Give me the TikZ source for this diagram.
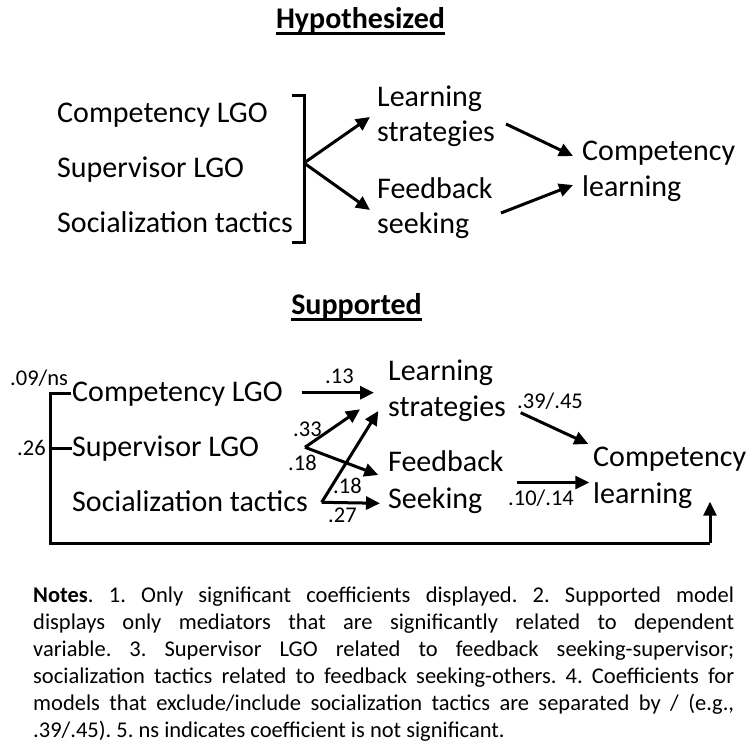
\documentclass[tikz,border=0pt]{standalone}
\usepackage{fontspec}
\setmainfont{Carlito}
\usetikzlibrary{arrows.meta}
\frenchspacing
\begin{document}
\begin{tikzpicture}[x=1pt,y=-1pt,
  txt/.style={inner sep=0pt,anchor=base west,font=\fontsize{30}{35}\selectfont},
  lbl/.style={inner sep=0pt,anchor=base west,font=\fontsize{22.5}{27}\selectfont},
  note/.style={inner sep=0pt,anchor=base west,font=\fontsize{22.5}{27}\selectfont},
  ttl/.style={inner sep=0pt,anchor=base,font=\fontsize{30}{35}\selectfont\bfseries},
  uline/.style={line width=3pt},
  link/.style={line width=3pt},
  arr/.style={line width=3pt,-{Triangle[length=14pt,width=13pt]}}]
\useasboundingbox[fill=white] (0,0) rectangle (753,744);

% ---------------- Hypothesized ----------------
\node[ttl] (th) at (360.5,28.5) {Hypothesized};
\draw[uline] ([yshift=-5pt]th.base west) -- ([yshift=-5pt]th.base east);

\node[txt] (hc) at (57,122.7) {Competency LGO};
\node[txt] (hs) at (57,177) {Supervisor LGO};
\node[txt] (ht) at (57,232) {Socialization tactics};
\node[txt] (hl1) at (377,106.7) {Learning};
\node[txt] (hl2) at (377,141.7) {strategies};
\node[txt] (hf1) at (377,198) {Feedback};
\node[txt] (hf2) at (377,233) {seeking};
\node[txt] (hq1) at (582,160) {Competency};
\node[txt] (hq2) at (582,196.7) {learning};

\coordinate (hbt) at (292,95);
\coordinate (hbb) at (292,242);
\coordinate (hv) at (304,163);
\coordinate (hlin) at (370,117);
\coordinate (hfin) at (370,210);
\coordinate (hlout) at (506,124);
\coordinate (hfout) at (501,213);
\coordinate (hqa) at (573,156);
\coordinate (hqb) at (573,185);

\draw[link] (hbt) -| (hv) |- (hbb);
\draw[arr] (hv) -- (hlin);
\draw[arr] (hv) -- (hfin);
\draw[arr] (hlout) -- (hqa);
\draw[arr] (hfout) -- (hqb);

% ---------------- Supported ----------------
\node[ttl] (ts) at (356.5,314.3) {Supported};
\draw[uline] ([yshift=-5pt]ts.base west) -- ([yshift=-5pt]ts.base east);

\node[txt] (sc) at (72,401) {Competency LGO};
\node[txt] (ss) at (72,456.7) {Supervisor LGO};
\node[txt] (st) at (72,511.7) {Socialization tactics};
\node[txt] (sl1) at (388,380) {Learning};
\node[txt] (sl2) at (388,416.7) {strategies};
\node[txt] (sf1) at (388,471.7) {Feedback};
\node[txt] (sf2) at (388,508.3) {Seeking};
\node[txt] (sq1) at (593,466.7) {Competency};
\node[txt] (sq2) at (593,503.3) {learning};

\node[lbl] (l09) at (10,385) {.09/ns};
\node[lbl] (l26) at (17,455) {.26};
\node[lbl] (l13) at (325,383.3) {.13};
\node[lbl] (l33) at (293,436.7) {.33};
\node[lbl] (l18a) at (288,470) {.18};
\node[lbl] (l18b) at (333,493.3) {.18};
\node[lbl] (l27) at (328,522.7) {.27};
\node[lbl] (l39) at (517,408.3) {.39/.45};
\node[lbl] (l10) at (508,505) {.10/.14};

\coordinate (ctick) at (71,393.3);
\coordinate (stick) at (72,448.3);
\coordinate (ltop) at (50,393.3);
\coordinate (lmid) at (50,448.3);
\coordinate (lbot) at (50,543.3);
\coordinate (rbot) at (710,543.3);
\coordinate (rtip) at (710,501.7);
\coordinate (cout) at (301.7,392.7);
\coordinate (cin) at (374,392.7);
\coordinate (sv) at (305,447.3);
\coordinate (sla) at (360,409.3);
\coordinate (sfa) at (378.3,475);
\coordinate (tv) at (321.7,502.3);
\coordinate (slb) at (378.3,411);
\coordinate (sfb) at (380,503.3);
\coordinate (slout) at (520.7,412.7);
\coordinate (sqa) at (588.3,444);
\coordinate (sfout) at (516.7,482.5);
\coordinate (sqb) at (589.3,482.5);

\draw[link] (ctick) -- (ltop) -- (lbot) -- (rbot);
\draw[arr] (rbot) -- (rtip);
\draw[link] (lmid) -- (stick);
\draw[arr] (cout) -- (cin);
\draw[arr] (sv) -- (sla);
\draw[arr] (sv) -- (sfa);
\draw[arr] (tv) -- (slb);
\draw[arr] (tv) -- (sfb);
\draw[arr] (slout) -- (sqa);
\draw[arr] (sfout) -- (sqb);

% ---------------- Notes ----------------
\node[note] (n1) at (33,602) {\makebox[701pt][s]{\textbf{Notes}. 1. Only significant coefficients displayed. 2. Supported model}};
\node[note] (n2) at (33,629) {\makebox[701pt][s]{displays only mediators that are significantly related to dependent}};
\node[note] (n3) at (33,656) {\makebox[701pt][s]{variable. 3. Supervisor LGO related to feedback seeking-supervisor;}};
\node[note] (n4) at (33,683) {\makebox[701pt][s]{socialization tactics related to feedback seeking-others. 4. Coefficients for}};
\node[note] (n5) at (33,710) {\makebox[701pt][s]{models that exclude/include socialization tactics are separated by / (e.g.,}};
\node[note] (n6) at (33,737) {.39/.45). 5. ns indicates coefficient is not significant.};
\end{tikzpicture}
\end{document}
